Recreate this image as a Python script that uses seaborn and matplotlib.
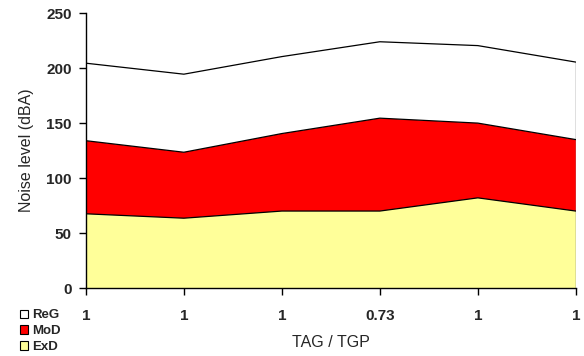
import numpy as np
import pandas as pd
import matplotlib
matplotlib.use("Agg")
import matplotlib.pyplot as plt
from matplotlib.patches import Patch
import seaborn as sns

# Values (stacked layers)
tick_labels = ['1', '1', '1', '0.73', '1', '1']
exd = [67.5, 63.5, 70, 70, 82, 70]
mod = [66.5, 60, 70.5, 84.5, 68, 65]
reg = [70.5, 71, 70, 69.5, 70.5, 70.5]

series_names = ['ExD', 'MoD', 'ReG']
series_colors = ['#FFFF99', '#FF0000', '#FFFFFF']

sns.set_style("white")
plt.rcParams['font.family'] = ['Liberation Sans', 'DejaVu Sans']

pos = np.arange(len(tick_labels))
df = pd.DataFrame({'pos': pos, 'ExD': exd, 'MoD': mod, 'ReG': reg})
cum = df[series_names].cumsum(axis=1)

fig = plt.figure(figsize=(5.84, 3.56), dpi=100)
ax = fig.add_axes([0.147, 0.191, 0.839, 0.772])

lower = np.zeros(len(pos))
for name, color in zip(series_names, series_colors):
    upper = cum[name].values
    ax.fill_between(pos, lower, upper, facecolor=color, edgecolor='none')
    sns.lineplot(x=pos, y=upper, ax=ax, color='black', linewidth=0.9)
    lower = upper

# right edge of the area block
ax.vlines(pos[-1], 0, cum['ReG'].values[-1], color='black', linewidth=0.9)

ax.set_xlim(pos[0], pos[-1])
ax.set_ylim(0, 250)
ax.set_yticks(np.arange(0, 251, 50))
ax.set_xticks(pos)
ax.set_xticklabels(tick_labels)
for lab in ax.get_xticklabels() + ax.get_yticklabels():
    lab.set_fontweight('bold')
    lab.set_fontsize(11)

ax.tick_params(axis='both', direction='out', length=5, width=1, color='black', left=True, bottom=True)
ax.tick_params(axis='x', pad=10)
ax.tick_params(axis='y', pad=5)

for side in ['top', 'right']:
    ax.spines[side].set_visible(False)
for side in ['left', 'bottom']:
    ax.spines[side].set_color('black')
    ax.spines[side].set_linewidth(1)

ax.set_ylabel('Noise level (dBA)', fontsize=11.5, labelpad=9)
ax.set_xlabel('TAG / TGP', fontsize=11.5, labelpad=9)

handles = [Patch(facecolor=c, edgecolor='black', linewidth=0.8, label=n)
           for n, c in zip(series_names[::-1], series_colors[::-1])]
fig.legend(handles=handles, loc='upper left', bbox_to_anchor=(0.034, 0.131),
           frameon=False, prop={'weight': 'bold', 'size': 9.5},
           handlelength=0.6, handleheight=0.6, handletextpad=0.35,
           labelspacing=0.3, borderaxespad=0, borderpad=0)

fig.savefig('out.png', dpi=100)
